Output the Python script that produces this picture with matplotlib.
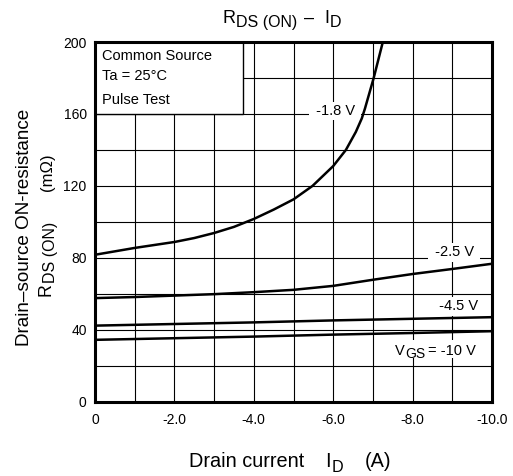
import matplotlib
matplotlib.use("Agg")
import matplotlib.pyplot as plt
from matplotlib.patches import Rectangle
from matplotlib.transforms import IdentityTransform

plt.rcParams['font.family'] = ['Liberation Sans', 'DejaVu Sans']

# curves: I_D (A) vs R_DS(ON) (mOhm)
id_18 = [0, -1, -2, -2.5, -3, -3.5, -4, -4.5, -5, -5.48, -6, -6.32, -6.57, -6.72, -6.8, -7.02, -7.25]
r_18 = [81.7, 85.5, 88.8, 91, 93.8, 97.2, 101.6, 106.8, 112.5, 120, 131, 140, 150, 157.5, 163, 180, 200]

id_25 = [0, -1, -2, -3, -4, -5, -6, -7, -8, -9, -10]
r_25 = [57.6, 58.2, 59, 59.8, 60.9, 62.2, 64.4, 67.8, 71, 73.8, 76.7]

id_45 = [0, -2, -4, -6, -8, -10]
r_45 = [42.3, 43.2, 44.1, 45.2, 46.1, 47]

id_10 = [0, -2, -4, -6, -8, -10]
r_10 = [34.4, 35.3, 36.2, 37.3, 38.2, 39.2]

x_ticks = [0, -2, -4, -6, -8, -10]
x_labels = ['0', '-2.0', '-4.0', '-6.0', '-8.0', '-10.0']
y_ticks = [0, 40, 80, 120, 160, 200]

H = 476
fig = plt.figure(figsize=(5.13, 4.76), dpi=100)
ax = fig.add_axes([95 / 513, 1 - 401.7 / H, (492 - 95) / 513, (401.7 - 42) / H])

ax.set_xlim(0, -10)
ax.set_ylim(0, 200)
ax.set_xticks(x_ticks)
ax.set_xticklabels(x_labels)
ax.set_yticks(y_ticks)
ax.set_xticks(range(0, -11, -1), minor=True)
ax.set_yticks(range(0, 201, 20), minor=True)
ax.tick_params(which='both', length=0, labelsize=10, colors='black')
ax.tick_params(axis='x', pad=8)
ax.tick_params(axis='y', pad=6)
ax.set_axisbelow(True)
ax.grid(which='both', color='black', linewidth=0.8)
for s in ax.spines.values():
    s.set_linewidth(2.2)

# condition box in the top-left corner
ax.add_patch(Rectangle((0, 160), -3.72, 40, facecolor='white', edgecolor='black',
                       linewidth=1, zorder=2))
ax.text(-0.17, 192, 'Common Source', fontsize=10.5, va='center', zorder=4)
ax.text(-0.17, 181, 'Ta = 25°C', fontsize=10.5, va='center', zorder=4)
ax.text(-0.17, 168, 'Pulse Test', fontsize=10.5, va='center', zorder=4)

for xs, ys in [(id_18, r_18), (id_25, r_25), (id_45, r_45), (id_10, r_10)]:
    ax.plot(xs, ys, color='black', linewidth=1.8, zorder=5,
            solid_joinstyle='round', solid_capstyle='butt')

box = dict(boxstyle='square,pad=0.15', facecolor='white', edgecolor='none')
ax.text(-6.05, 161.5, ' -1.8 V ', fontsize=10.5, ha='center', va='center', bbox=box, zorder=4)
ax.text(-9.05, 83, ' -2.5 V ', fontsize=10.5, ha='center', va='center', bbox=box, zorder=4)
ax.text(-9.15, 53, ' -4.5 V ', fontsize=10.5, ha='center', va='center', bbox=box, zorder=4)
ax.add_patch(Rectangle((-7.49, 24.3), -2.23, 10.1, facecolor='white', edgecolor='none', zorder=4))

renderer = fig.canvas.get_renderer()


def run(x, y_top, parts, vertical=False):
    # lay out text pieces one after another in pixel coords (y from the top),
    # each part: (text, size, baseline drop, gap before)
    pos = x if not vertical else H - y_top
    for s, size, drop, gap in parts:
        pos += gap
        if vertical:
            t = fig.text(x + drop, pos, s, fontsize=size, transform=IdentityTransform(),
                         ha='left', va='baseline', rotation=90, rotation_mode='anchor', zorder=6)
            pos += t.get_window_extent(renderer).height
        else:
            t = fig.text(pos, H - y_top - drop, s, fontsize=size, transform=IdentityTransform(),
                         ha='left', va='baseline', zorder=6)
            pos += t.get_window_extent(renderer).width


# V_GS label
run(394.5, 355, [('V', 10.5, 0, 0), ('GS', 10, 2.5, 0.5), ('= -10 V', 10.5, 0, 3)])

# title
run(223, 22.7, [('R', 13, 0, 0), ('DS (ON)', 11.5, 4, 0.5), ('–', 13, 0, 6),
                ('I', 13, 0, 10), ('D', 11.5, 4, 0.5)])

# x label
run(189, 466.7, [('Drain current', 14.3, 0, 0), ('I', 14.3, 0, 21),
                 ('D', 11.6, 5, 0.5), ('(A)', 14.3, 0, 22)])

# y label
fig.text(25 / 513, 1 - 227.5 / H, 'Drain–source ON-resistance', fontsize=13.6,
         rotation=90, ha='center', va='center')
run(51, 296, [('R', 12.8, 0, 0), ('DS (ON)', 11.5, 4.5, 0.5), ('(mΩ)', 12, 1.5, 30)],
    vertical=True)

fig.savefig('out.png', dpi=100)
